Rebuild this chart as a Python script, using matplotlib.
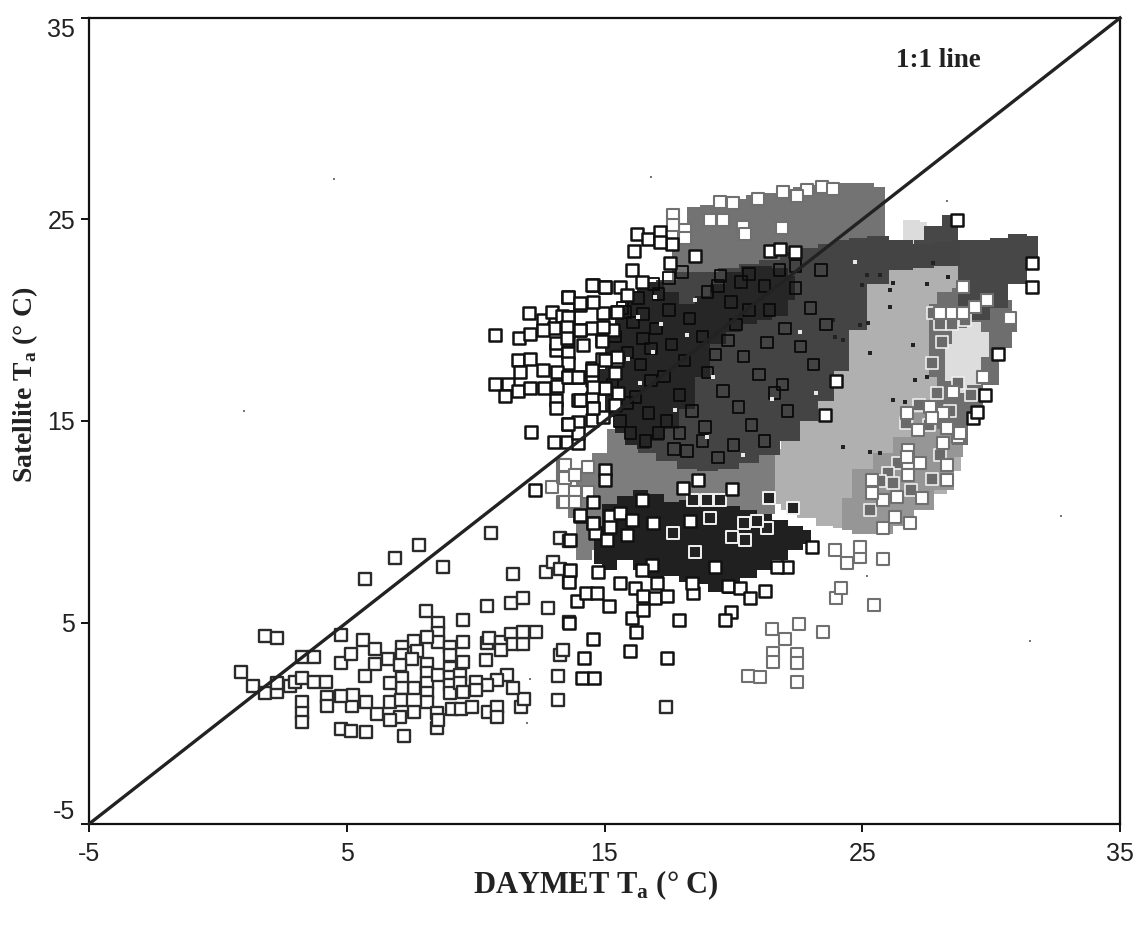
import matplotlib
matplotlib.use('Agg')
import matplotlib.pyplot as plt

plt.rcParams['mathtext.fontset'] = 'custom'
plt.rcParams['mathtext.bf'] = 'Liberation Serif:bold'
plt.rcParams['mathtext.rm'] = 'Liberation Serif:bold'

# axis setup
ticks = [-5, 5, 15, 25, 35]
tick_labels = ['-5', '5', '15', '25', '35']
line_ends = [-5, 35]

# sparse squares (DAYMET, satellite)
low_x = [0.88, 1.35, 1.83, 2.3, 1.83, 2.28, 2.28, 2.8, 3.0, 3.25, 3.74, 4.2, 3.25, 3.74, 4.76, 4.76, 5.16, 5.62,
         6.1, 6.6, 6.1, 5.71, 5.72, 6.86, 7.79, 8.73, 10.61, 8.07, 8.55, 8.55, 8.55, 9.5, 8.1, 7.62, 7.13, 7.71,
         7.13, 7.52, 7.07, 9.0, 9.0, 9.5, 9.5, 8.1, 8.1, 8.1, 8.1, 8.1, 8.55, 9.0, 9.0, 9.4, 9.0, 9.0, 9.4, 9.5,
         7.6, 7.13, 7.13, 6.68, 6.68, 7.1, 7.62, 7.07, 6.68, 6.16, 5.73, 5.19, 4.76, 5.25, 4.22, 4.22, 3.25, 3.25,
         3.25, 4.76, 5.16, 5.73, 7.23, 8.49, 8.49, 8.55, 9.1, 9.42, 9.87, 10.49, 10.82, 10.82, 11.76, 11.88, 13.18,
         13.18, 11.46, 11.2, 10.82, 10.43, 10.0, 10.0, 10.39, 10.43, 10.53, 11.0, 11.0, 11.37, 11.46, 11.85, 11.85,
         12.34, 10.43, 11.37, 11.85, 12.8, 13.64, 13.28, 13.38, 11.46, 12.73, 12.99, 13.28, 13.66, 13.64, 13.28,
         13.64, 17.4]
low_y = [2.56, 1.87, 4.35, 4.25, 1.49, 1.57, 1.98, 1.87, 2.03, 2.23, 2.07, 2.07, 3.3, 3.27, 4.38, 2.98, 3.42, 4.14,
         3.69, 3.19, 2.94, 2.35, 7.15, 8.22, 8.83, 7.76, 9.43, 5.59, 4.96, 4.47, 4.05, 5.13, 4.3, 4.1, 3.8, 3.6,
         3.39, 3.19, 2.9, 3.8, 3.4, 4.05, 3.06, 2.94, 2.48, 1.98, 1.49, 1.07, 2.4, 2.73, 2.32, 2.4, 1.9, 1.49, 1.98,
         1.54, 1.74, 2.27, 1.74, 1.98, 1.04, 1.16, 0.54, 0.3, 0.16, 0.45, 1.04, 0.87, 1.37, 1.4, 1.32, 0.86, 1.04,
         0.53, 0.05, -0.3, -0.37, -0.41, -0.63, 0.5, -0.25, 0.16, 0.69, 0.71, 0.79, 0.58, 0.83, 0.3, 0.79, 1.21, 1.16,
         2.36, 1.77, 2.4, 2.15, 1.9, 2.07, 1.65, 3.14, 3.97, 4.22, 4.05, 3.64, 4.42, 3.94, 3.94, 4.55,
         4.55, 5.84, 5.99, 6.2, 5.71, 5.01, 3.39, 3.64, 7.41, 7.53, 8.02, 7.64, 7.53, 7.03, 9.18,
         9.06, 0.8]

mid_x = [13.63, 14.56, 14.2, 14.11, 14.59, 16.0, 17.44, 16.22, 16.05, 16.48, 17.9, 15.17, 13.92, 14.3, 14.69, 15.6,
         16.18, 16.48, 16.96, 17.44, 18.44, 18.38, 19.78, 20.26, 20.64, 21.23, 19.89, 19.67,
         18.31, 16.83, 16.44, 17.02, 19.29, 22.07, 21.68, 23.04, 14.56, 14.63, 13.66, 14.05, 15.21, 15.6, 16.05,
         15.08, 13.63, 13.66, 14.76, 15.21, 15.86, 16.89, 16.44, 18.06, 18.64, 19.93, 12.3, 15.02, 14.05, 14.57,
         14.57, 15.02]
mid_y = [4.99, 4.16, 3.22, 2.23, 2.23, 3.58, 3.22, 4.54, 5.24, 5.62, 5.12, 5.83, 6.06, 6.44, 6.44, 6.94,
         6.69, 6.33, 6.23, 6.33, 6.44, 6.94, 6.82, 6.69, 6.2, 6.56, 5.5, 5.12,
         10.05, 7.85, 7.6, 6.97, 7.73, 7.73, 7.73, 8.76, 9.92, 9.42, 9.09, 10.28, 10.28, 10.41, 10.08,
         9.09, 7.02, 7.6, 7.52, 9.75, 9.34, 9.92, 11.08, 11.66, 12.07, 11.62, 11.58, 12.57, 10.34, 9.92,
         11.0, 12.07]

up_x = [10.75, 11.7, 12.11, 12.08, 12.63, 12.95, 13.6, 13.6, 13.34, 13.04, 12.63, 13.53, 14.05, 14.54, 15.02, 15.47,
        14.05, 14.5, 14.92, 15.32, 13.6, 14.18, 13.12, 13.12, 13.6, 13.6, 11.66, 12.11, 11.72, 12.63, 13.15, 13.6,
        13.99, 10.75, 11.24, 11.66, 11.14, 12.11, 12.65, 13.15, 13.12, 13.12, 13.99, 14.5, 14.57, 15.02, 14.5, 14.5,
        15.41, 15.47, 14.89, 15.54, 15.41, 13.6, 13.99, 12.15, 13.04, 13.56, 13.99, 13.99, 14.5, 14.96,
        16.25, 16.14, 16.7, 17.15, 17.6, 17.54, 16.05, 17.15, 13.59, 14.52, 15.02, 14.05, 15.6, 15.86, 16.44, 15.5,
        14.95, 14.56, 14.95, 14.05, 14.89, 13.59, 13.53, 13.53, 15.47, 15.02, 13.59, 13.98, 15.02, 14.5, 14.56,
        14.05, 14.56, 13.59, 21.42, 21.81, 22.39, 18.51, 28.66, 31.58, 31.58, 30.28, 29.76, 29.31, 29.44, 24.0, 23.56]
up_y = [19.27, 19.1, 19.3, 20.35, 20.0, 20.43, 21.17, 20.18, 20.2, 19.6, 19.5, 19.68, 20.76, 21.75, 21.67, 20.43,
        19.52, 19.6, 19.02, 19.52, 19.02, 18.77, 18.53, 18.86, 18.36, 17.86, 18.03, 18.08, 17.45, 17.53, 17.45, 17.2,
        17.2, 16.84, 16.84, 16.5, 16.26, 16.62, 16.62, 16.74, 16.04, 15.63, 16.04, 16.13, 15.63, 16.62, 17.62, 17.04,
        17.37, 18.03, 18.06, 16.38, 15.8, 14.85, 14.97, 14.44, 13.98, 13.94, 13.89, 14.39, 15.05, 15.22,
        24.27, 23.44, 24.02, 24.37, 23.79, 22.83, 22.5, 23.9, 21.17, 21.75, 21.64, 20.84, 21.67, 21.26, 21.92, 20.43,
        20.35, 20.93, 19.68, 19.52, 18.99, 20.18, 19.68, 19.1, 18.2, 18.03, 17.2, 17.2, 16.62, 17.53, 16.71,
        16.05, 15.63, 14.84, 23.44, 23.52, 23.41, 23.19, 24.98, 21.67, 22.83, 18.33, 16.3, 15.13, 15.47, 17.0, 15.3]

# paler squares on the lower and right sides of the cloud
pale_x = [21.51, 22.0, 22.56, 23.49, 21.52, 21.52, 22.45, 22.45, 20.55, 21.03, 22.48, 23.97, 24.18, 25.47, 25.82,
          24.4, 24.9, 24.9, 23.94, 12.95, 13.4, 13.86, 13.4, 13.4, 13.86, 13.86, 13.46, 13.46, 13.85, 13.46, 13.85,
          14.37, 14.37, 26.79, 26.79, 26.79, 27.24, 28.28, 28.28, 26.34, 25.82, 25.37, 25.37, 26.27, 26.85, 25.82,
          27.31, 28.73, 28.15, 26.72, 27.63, 28.15, 27.69, 28.28, 28.79, 26.72, 27.18, 29.38, 28.92, 29.83, 30.73,
          28.54, 29.7, 28.02, 28.47, 28.92, 17.67, 18.12, 18.12, 17.67, 21.94, 22.84, 20.97, 22.45, 23.43, 23.88,
          19.48, 20.0, 19.09, 19.6, 20.38, 21.87, 20.45]
pale_y = [4.66, 4.16, 4.91, 4.54, 3.47, 3.05, 3.43, 2.97, 2.36, 2.31, 2.03, 6.23, 6.73, 5.87, 8.15,
          7.93, 8.26, 8.76, 8.6, 11.74, 12.82, 12.32, 12.24, 11.0, 11.5, 11.0, 12.81, 12.15, 12.32, 11.0, 11.0,
          12.73, 11.49, 13.56, 12.9, 12.32, 12.9, 12.81, 12.07, 11.24, 11.08, 12.07, 11.41, 10.25, 9.92, 9.67,
          11.16, 14.22, 13.89, 15.38, 15.71, 15.38, 15.13, 14.64, 14.39, 13.23, 14.56, 20.68, 21.67, 21.0, 20.1,
          16.46, 17.2, 20.35, 20.35, 20.35, 25.23, 24.48, 24.07, 24.73, 26.34, 26.47, 26.02, 26.17, 26.63, 26.5,
          25.89, 25.8, 24.98, 24.98, 24.65, 24.57, 24.3]

# white edged squares with a dark middle, in the lower dark band
rim_x = [18.44, 18.96, 19.48, 18.51, 20.45, 19.96, 21.29, 20.9, 20.42, 17.67, 21.4, 19.1, 22.3]
rim_y = [11.08, 11.08, 11.08, 8.48, 9.09, 9.22, 9.67, 10.05, 9.95, 9.42, 11.2, 10.2, 10.7]

# grey squares with a pale rim on the right side of the cloud
grey_x = [27.76, 28.02, 28.47, 29.0, 28.1, 27.7, 28.7, 29.2, 27.9, 28.4, 27.6, 26.7, 27.2, 26.4, 26.0, 25.7, 26.9,
          27.7, 28.0, 25.3, 26.2]
grey_y = [20.35, 19.8, 19.8, 20.0, 18.9, 17.9, 16.9, 16.3, 16.4, 15.5, 14.8, 14.9, 15.8, 12.9, 12.4, 12.0, 11.6,
          12.1, 13.3, 10.6, 11.9]

# outlines that still show through the darkest part
dense_x = [15.7, 16.1, 16.5, 15.9, 16.4, 16.8, 16.2, 16.7, 15.6, 16.0, 16.6, 17.1, 17.5, 17.0, 17.6, 18.1, 17.3, 17.9,
           18.4, 18.9, 18.3, 18.8, 19.3, 17.4, 17.9, 19.4, 19.9, 20.3, 19.0, 19.6, 20.2, 20.7, 21.2, 19.8, 20.4, 21.0,
           21.6, 22.1, 21.4, 22.0, 22.6, 23.1, 22.4, 23.0, 23.6, 20.6, 21.2, 21.8, 18.2, 18.8, 19.4, 20.0, 16.9, 17.5,
           18.0, 15.4, 15.8, 16.3, 16.8, 15.3, 15.9, 16.5, 17.1, 17.7, 20.1, 20.6, 19.5, 19.0, 21.3, 21.9, 22.4, 23.4]
dense_y = [20.6, 19.9, 19.1, 18.4, 17.8, 17.0, 16.2, 15.4, 15.0, 14.4, 14.0, 21.3, 20.5, 19.6, 18.8, 18.0, 17.2, 16.3,
           15.5, 14.7, 20.1, 19.2, 18.3, 15.0, 14.4, 21.7, 20.9, 21.9, 17.4, 16.5, 15.7, 14.8, 14.0, 19.0, 18.2, 17.3,
           16.4, 15.5, 20.5, 19.6, 18.7, 17.8, 21.6, 20.6, 19.8, 22.3, 21.7, 22.5, 13.5, 14.0, 13.2, 13.8, 21.8, 22.1,
           22.4, 19.2, 20.4, 21.1, 18.6, 16.8, 15.9, 20.3, 14.4, 13.6, 19.8, 20.5, 22.2, 21.4, 18.9, 16.8, 22.7, 22.5]

# small dark and white flecks
fleck_x = [25.17, 26.08, 24.98, 25.69, 24.91, 26.08, 25.24, 26.98, 25.3, 26.2, 26.66, 27.5, 27.05, 24.27, 25.3, 25.69,
           27.76, 27.5, 28.34, 26.2, 23.88, 24.27, 23.94]
fleck_y = [22.25, 21.5, 21.75, 22.25, 19.77, 20.68, 19.85, 18.78, 18.36, 16.05, 15.96, 17.2, 17.04, 13.73, 13.48, 13.4,
           22.83, 21.8, 22.17, 21.84, 20.0, 19.0, 19.19]
white_x = [18.19, 16.96, 16.89, 17.73, 16.37, 16.31, 18.96, 20.38, 19.2, 21.5, 17.2, 15.9, 18.5, 22.6, 23.2, 24.7]
white_y = [19.27, 21.17, 18.44, 15.55, 16.87, 20.18, 14.23, 13.3, 17.2, 16.1, 19.8, 18.1, 21.0, 19.4, 16.4, 22.9]

# stray specks on the page
speck_x = [16.8, 28.3, 31.5, 25.2, 12.1, 12.0, 4.5, 1.0, 32.7]
speck_y = [27.1, 25.9, 4.1, 7.3, 2.2, 0.0, 27.0, 15.5, 10.3]

# where the squares overlap too much to pick out: (x, lowest y, highest y) per shade
top_x = [17.6, 18.0, 18.4, 19.0, 19.6, 20.2, 20.8, 21.4, 22.0, 22.6, 23.2, 24.0, 25.0, 25.9]
top_lo = [21.0, 21.4, 21.6, 21.8, 22.0, 22.2, 22.3, 22.5, 22.6, 22.8, 23.0, 23.4, 23.8, 24.0]
top_hi = [23.5, 24.8, 25.6, 25.7, 25.9, 26.0, 26.2, 26.3, 26.5, 26.6, 26.7, 26.8, 26.8, 26.6]

centre_x = [16.0, 16.6, 17.4, 18.2, 19.0, 19.8, 20.6, 21.4, 22.2, 23.0, 23.6, 24.2, 24.8, 25.6, 26.5, 27.4, 28.2, 28.8]
centre_lo = [14.2, 13.4, 13.0, 12.6, 12.5, 12.6, 12.9, 13.3, 14.0, 15.0, 16.0, 17.5, 19.5, 21.8, 22.5, 22.6, 22.7, 22.7]
centre_hi = [21.0, 21.6, 22.0, 22.4, 22.4, 22.6, 22.8, 23.0, 23.4, 23.6, 23.8, 24.0, 24.1, 24.2, 24.0, 23.8, 23.9, 24.0]

core_x = [14.8, 15.2, 15.6, 16.0, 16.5, 17.0, 17.6, 18.2, 18.8, 19.4, 20.0, 20.6, 21.2, 21.8, 22.4]
core_lo = [16.8, 15.2, 14.4, 13.8, 13.6, 14.0, 14.6, 15.6, 17.2, 18.8, 19.4, 19.8, 20.0, 20.2, 21.0]
core_hi = [17.6, 19.6, 20.6, 21.4, 21.9, 21.9, 21.4, 20.8, 21.2, 21.8, 22.4, 22.7, 22.7, 22.6, 22.2]

light_x = [21.0, 21.6, 22.1, 22.8, 23.6, 24.1, 24.6, 25.3, 26.2, 27.0, 27.8, 28.8, 28.9]
light_lo = [11.1, 10.9, 10.6, 10.2, 9.8, 9.7, 9.6, 9.6, 10.0, 10.6, 11.4, 12.5, 14.0]
light_hi = [11.3, 13.6, 15.0, 15.9, 17.0, 19.0, 21.0, 22.7, 22.9, 23.0, 22.9, 22.9, 22.9]

right_x = [27.0, 27.8, 28.4, 29.0, 29.6, 30.3, 31.0, 31.8]
right_lo = [23.6, 22.9, 22.9, 20.0, 20.0, 20.6, 21.8, 22.5]
right_hi = [24.0, 24.7, 25.2, 24.0, 24.0, 24.1, 24.3, 24.2]

side_x = [27.6, 28.2, 28.8, 29.4, 30.0, 30.6, 31.0]
side_lo = [17.2, 14.6, 13.8, 15.4, 16.8, 18.6, 19.4]
side_hi = [20.8, 21.4, 21.6, 21.4, 21.6, 21.0, 20.4]

pale_patch_x = [28.2, 28.8, 29.3, 29.9]
pale_patch_lo = [17.0, 16.4, 16.8, 18.2]
pale_patch_hi = [18.8, 19.6, 19.9, 19.4]

lobe_x = [26.6, 27.0, 27.5]
lobe_lo = [23.4, 23.5, 23.6]
lobe_hi = [25.0, 25.0, 24.9]

lower_x = [14.6, 15.2, 15.8, 16.4, 17.0, 17.6, 18.2, 18.7, 19.3, 19.9, 20.6, 21.2, 21.8, 22.4, 23.0]
lower_lo = [7.9, 7.6, 8.1, 7.6, 7.2, 7.3, 7.0, 6.9, 6.5, 6.4, 7.2, 7.6, 8.1, 8.6, 8.9]
lower_hi = [9.8, 10.9, 11.3, 11.6, 11.4, 11.0, 11.1, 11.1, 10.9, 10.8, 10.6, 10.4, 10.1, 9.8, 9.6]

mix_x = [13.6, 14.2, 14.8, 15.4, 16.0, 16.6, 17.4, 18.2, 18.8, 19.6, 20.4, 21.0, 21.6]
mix_lo = [10.2, 8.1, 8.6, 9.6, 10.4, 10.8, 10.8, 10.8, 10.8, 10.6, 10.4, 10.4, 10.4]
mix_hi = [11.8, 12.6, 13.4, 14.6, 15.0, 14.6, 13.6, 13.0, 12.8, 12.8, 13.2, 13.6, 13.8]

lowgrey_x = [24.2, 25.0, 25.8, 26.6, 27.4, 28.2, 28.9]
lowgrey_lo = [9.6, 9.4, 9.4, 9.8, 10.6, 11.6, 13.2]
lowgrey_hi = [11.2, 12.6, 13.4, 14.2, 15.4, 16.6, 17.0]

fig = plt.figure(figsize=(11.47, 9.32), dpi=100)
ax = fig.add_axes([89 / 1147, (932 - 824) / 932, (1120 - 89) / 1147, (824 - 18) / 932])


def band(x, lo, hi, shade, order):
    ax.fill_between(x, lo, hi, color=shade, lw=0, zorder=order, step='mid')


band(top_x, top_lo, top_hi, '#737373', 1)
band(light_x, light_lo, light_hi, '#b0b0b0', 1)
band(mix_x, mix_lo, mix_hi, '#7d7d7d', 1)
band(lowgrey_x, lowgrey_lo, lowgrey_hi, '#969696', 1.2)
band(side_x, side_lo, side_hi, '#6e6e6e', 1.2)
band(pale_patch_x, pale_patch_lo, pale_patch_hi, '#dddddd', 1.4)
band(lobe_x, lobe_lo, lobe_hi, '#dcdcdc', 1.4)
band(right_x, right_lo, right_hi, '#474747', 2)
band(centre_x, centre_lo, centre_hi, '#444444', 2)
band(core_x, core_lo, core_hi, '#262626', 2.1)
band(lower_x, lower_lo, lower_hi, '#202020', 2.1)

ax.scatter(fleck_x, fleck_y, marker='s', s=9, color='#222222', lw=0, zorder=2.5)
ax.scatter(dense_x, dense_y, marker='s', s=68, facecolor='none', edgecolor='#0a0a0a', linewidth=1.3, zorder=2.6)
ax.scatter(white_x, white_y, marker='s', s=7, color='#e8e8e8', lw=0, zorder=2.7)

ax.scatter(grey_x, grey_y, marker='s', s=68, facecolor='#6a6a6a', edgecolor='#eeeeee', linewidth=1.2, zorder=3)
ax.scatter(pale_x, pale_y, marker='s', s=68, facecolor='white', edgecolor='#707070', linewidth=1.5, zorder=3)
ax.scatter(rim_x, rim_y, marker='s', s=68, facecolor='#222222', edgecolor='#f2f2f2', linewidth=1.4, zorder=3)
ax.scatter(low_x, low_y, marker='s', s=68, facecolor='white', edgecolor='#2b2b2b', linewidth=1.7, zorder=3)
ax.scatter(mid_x, mid_y, marker='s', s=68, facecolor='white', edgecolor='#111111', linewidth=1.8, zorder=3)
ax.scatter(up_x, up_y, marker='s', s=68, facecolor='white', edgecolor='#111111', linewidth=1.8, zorder=3)
ax.scatter(speck_x, speck_y, marker='s', s=2, color='#777777', lw=0, zorder=3)

# 1:1 line
ax.plot(line_ends, line_ends, color='#222222', lw=2.4, zorder=4, clip_on=False)
ax.text(26.3, 32.9, '1:1 line', family='Liberation Serif', weight='bold', fontsize=19.5, color='#222222',
        ha='left', va='center')

ax.set_xlim(-5, 35)
ax.set_ylim(-5, 35)
ax.set_xticks(ticks, tick_labels)
ax.set_yticks(ticks, tick_labels)
ax.tick_params(length=6, width=1.4, labelsize=18, color='#111111', labelcolor='#222222')
ax.tick_params(axis='x', pad=7)
ax.tick_params(axis='y', pad=4)
for lab in ax.get_xticklabels() + ax.get_yticklabels():
    lab.set_family('Liberation Sans')
ax.get_yticklabels()[0].set_verticalalignment('bottom')
ax.get_yticklabels()[-1].set_verticalalignment('top')
for side in ax.spines.values():
    side.set_linewidth(1.6)
    side.set_color('#111111')

fig.text(596 / 1147, 1 - 885 / 932, r'DAYMET T$_{\mathbf{a}}$ (° C)', family='Liberation Serif', weight='bold',
         fontsize=22, color='#222222', ha='center', va='center')
fig.text(25 / 1147, 1 - 385 / 932, r'Satellite T$_{\mathbf{a}}$ (° C)', family='Liberation Serif', weight='bold',
         fontsize=20, color='#222222', ha='center', va='center', rotation=90)

fig.savefig('out.png', dpi=100)
